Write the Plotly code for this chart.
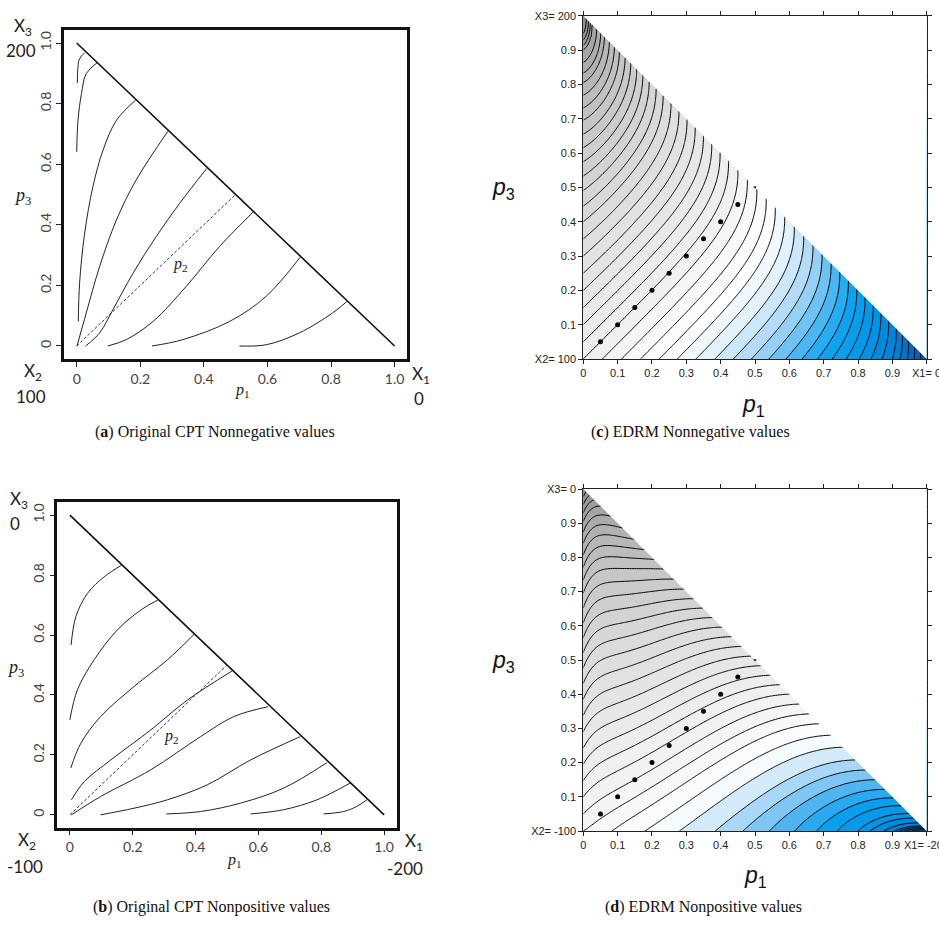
import numpy as np
import plotly.graph_objects as go

W, H = 939, 928

# ---------------- panel (a): CPT nonnegative indifference curves (p1, p3) ----------------
a_p1 = [
    [0.002, 0.004, 0.009, 0.025],
    [0.0, 0.004, 0.015, 0.030, 0.064],
    [0.005, 0.009, 0.025, 0.051, 0.083, 0.125, 0.185],
    [0.001, 0.030, 0.072, 0.125, 0.187, 0.287],
    [0.028, 0.072, 0.114, 0.177, 0.25, 0.324, 0.409],
    [0.098, 0.156, 0.24, 0.344, 0.449, 0.556],
    [0.237, 0.334, 0.481, 0.596, 0.703],
    [0.512, 0.596, 0.70, 0.805, 0.85],
]
a_p3 = [
    [0.868, 0.921, 0.948, 0.968],
    [0.641, 0.745, 0.833, 0.899, 0.935],
    [0.081, 0.207, 0.372, 0.526, 0.647, 0.745, 0.811],
    [0.0, 0.109, 0.262, 0.416, 0.548, 0.709],
    [0.0, 0.043, 0.12, 0.24, 0.361, 0.471, 0.586],
    [0.0, 0.021, 0.081, 0.196, 0.328, 0.443],
    [0.0, 0.021, 0.081, 0.164, 0.293],
    [0.0, 0.004, 0.043, 0.109, 0.147],
]
# ---------------- panel (b): CPT nonpositive ----------------
b_p1 = [
    [0.004, 0.019, 0.056, 0.109, 0.164],
    [0.0, 0.024, 0.077, 0.151, 0.225, 0.28],
    [0.003, 0.035, 0.098, 0.204, 0.31, 0.395],
    [0.005, 0.046, 0.13, 0.257, 0.374, 0.516],
    [0.005, 0.098, 0.257, 0.416, 0.522, 0.631],
    [0.098, 0.204, 0.31, 0.437, 0.575, 0.733],
    [0.307, 0.416, 0.543, 0.68, 0.818],
    [0.575, 0.68, 0.786, 0.892],
    [0.807, 0.871, 0.913, 0.945],
]
b_p3 = [
    [0.567, 0.661, 0.739, 0.794, 0.833],
    [0.317, 0.417, 0.517, 0.617, 0.683, 0.717],
    [0.156, 0.239, 0.328, 0.428, 0.517, 0.602],
    [0.05, 0.111, 0.183, 0.283, 0.383, 0.48],
    [0.0, 0.061, 0.15, 0.261, 0.328, 0.361],
    [0.0, 0.022, 0.05, 0.1, 0.183, 0.261],
    [0.003, 0.011, 0.039, 0.089, 0.174],
    [0.003, 0.017, 0.05, 0.106],
    [0.003, 0.011, 0.028, 0.05],
]
simplex_edge_p1 = [0, 1]
simplex_edge_p3 = [1, 0]
diag_p1 = [0, 0.5]
diag_p3 = [0, 0.5]

# ---------------- panels (c), (d): EDRM contour levels read along the triangle edges ----------------
edge_p = [0.0, 0.1, 0.2, 0.3, 0.4, 0.5, 0.6, 0.7, 0.8, 0.9, 1.0]
c_left_level = [0, 2, 4, 6, 8, 10.2, 12.6, 15.1, 17.8, 21, 25]            # along p1 = 0, by p3
c_bottom_level = [0, -1.8, -3.6, -5.5, -7.3, -9.2, -11.2, -13.4, -15.9, -19, -24]  # along p3 = 0, by p1
d_left_level = [0, 2, 4.1, 6.2, 8.3, 10.5, 12.8, 15.1, 17.8, 20.8, 25]
d_bottom_level = [0, -1.2, -2.2, -3.2, -4.15, -5.45, -6.75, -8.3, -10, -12.5, -17]
# curve-shape settings (bend toward the p2 = 0 edge, edge steepness)
c_shape = dict(bend=1.05, width=0.15, top_flat=1.46, top_scale=0.1)
d_shape = dict(slope=0.6, width=0.15, left_steep=3.8, left_scale=0.05, bottom_steep=2.2, bottom_scale=0.2)
dots = [0.05, 0.1, 0.15, 0.2, 0.25, 0.3, 0.35, 0.4, 0.45]


def s_c(p1, p3):
    p2 = np.clip(1 - p1 - p3, 0, None)
    g = -c_shape['bend'] * c_shape['width'] * np.exp(-p2 / c_shape['width'])
    t = c_shape['top_flat'] * p1 * np.exp(-p1 / c_shape['top_scale']) * p3 ** 2
    return p3 - p1 + g + t


def s_d(p1, p3):
    p2 = np.clip(1 - p1 - p3, 0, None)
    k = d_shape['slope']
    g = k * d_shape['width'] * np.exp(-p2 / d_shape['width'])
    f = np.sqrt(np.clip(p3, 0, None) + 0.03) - np.sqrt(0.03)
    t1 = -d_shape['left_steep'] * p1 * np.exp(-p1 / d_shape['left_scale']) * f
    t2 = -d_shape['bottom_steep'] * p3 * np.exp(-p3 / d_shape['bottom_scale']) * p1 ** 2 * (1.3 - p1)
    return p3 - k * p1 + g + t1 + t2


def level_field(sfun, left, bottom):
    ep = np.array(edge_p)
    sl = sfun(np.zeros_like(ep), ep)
    sb = sfun(ep, np.zeros_like(ep))
    xs = np.concatenate([sb[1:][::-1], sl])
    ys = np.concatenate([np.array(bottom[1:])[::-1], np.array(left)])
    order = np.argsort(xs)
    xs, ys = xs[order], ys[order]
    g = np.linspace(0, 1, 201)
    P1, P3 = np.meshgrid(g, g)
    return g, np.interp(sfun(P1, P3), xs, ys)


gc, Zc = level_field(s_c, c_left_level, c_bottom_level)
gd, Zd = level_field(s_d, d_left_level, d_bottom_level)

fig = go.Figure()


def px_x(px):
    return px / W


def px_y(py):
    return 1 - py / H


# ---------- line panels ----------
for p1s, p3s, xa, ya in [(a_p1, a_p3, 'x', 'y'), (b_p1, b_p3, 'x2', 'y2')]:
    for xs, ys in zip(p1s, p3s):
        fig.add_trace(go.Scatter(x=xs, y=ys, mode='lines', xaxis=xa, yaxis=ya,
                                 line=dict(color='#222', width=1, shape='spline', smoothing=1.0),
                                 showlegend=False, hoverinfo='skip'))
    fig.add_trace(go.Scatter(x=simplex_edge_p1, y=simplex_edge_p3, mode='lines', xaxis=xa, yaxis=ya,
                             line=dict(color='#111', width=1.6), showlegend=False))
    fig.add_trace(go.Scatter(x=diag_p1, y=diag_p3, mode='lines', xaxis=xa, yaxis=ya,
                             line=dict(color='#333', width=1, dash='3px,2px'), showlegend=False))

# ---------- contour panels ----------
cs_c = [[-24, '#00559f'], [-19, '#0080d8'], [-16, '#0096e6'], [-13, '#12a6f0'], [-11, '#5cbcf2'],
        [-9, '#a8d7f7'], [-6.5, '#e2f1fc'], [-4.5, '#ffffff'], [-2, '#f8f8f8'], [0, '#efefef'],
        [5, '#e3e3e3'], [10, '#d5d5d5'], [15, '#c4c4c4'], [20, '#a9a9a9'], [25, '#8a8a8a']]
cs_d = [[-17, '#00559f'], [-13.5, '#0078cc'], [-11, '#0090e2'], [-8.5, '#08a0ee'], [-6.8, '#40b0f0'],
        [-5.5, '#80c6f4'], [-4.2, '#b5dcf8'], [-3.2, '#e0f0fc'], [-2.2, '#ffffff'], [0, '#f6f6f6'],
        [5, '#e9e9e9'], [10, '#d9d9d9'], [15, '#c5c5c5'], [20, '#a8a8a8'], [25, '#888888']]
mask_p1 = [0, 1, 1.05, 1.05, 0]
mask_p3 = [1, 0, 0, 1.05, 1.05]


def norm_scale(cs):
    lo, hi = cs[0][0], cs[-1][0]
    return [[(v - lo) / (hi - lo), c] for v, c in cs], lo, hi


for g, Z, xa, ya, cs in [(gc, Zc, 'x3', 'y3', cs_c), (gd, Zd, 'x4', 'y4', cs_d)]:
    scale, lo, hi = norm_scale(cs)
    fig.add_trace(go.Contour(x=g, y=g, z=Z, xaxis=xa, yaxis=ya, colorscale=scale,
                             zmin=lo, zmax=hi, showscale=False, hoverinfo='skip',
                             contours=dict(start=-30, end=30, size=1, coloring='fill', showlines=True),
                             line=dict(color='black', width=1, smoothing=0.8)))
    fig.add_trace(go.Scatter(x=mask_p1, y=mask_p3, fill='toself', mode='lines',
                             fillcolor='white', line=dict(width=0, color='white'),
                             xaxis=xa, yaxis=ya, showlegend=False, hoverinfo='skip'))
    fig.add_trace(go.Scatter(x=dots, y=dots, mode='markers', xaxis=xa, yaxis=ya,
                             marker=dict(color='black', size=5), showlegend=False))
    fig.add_trace(go.Scatter(x=[0.5], y=[0.5], mode='markers', xaxis=xa, yaxis=ya,
                             marker=dict(color='black', size=3, symbol='triangle-down'), showlegend=False))

tick_font_ab = dict(family='Lato', size=14, color='#444')
tick_font_cd = dict(family='Liberation Sans', size=11, color='#222')


def ab_axes(xdom, ydom):
    tv = [0, 0.2, 0.4, 0.6, 0.8, 1.0]
    tt = ['0', '0.2', '0.4', '0.6', '0.8', '1.0']
    common = dict(tickvals=tv, ticktext=tt, ticks='outside', ticklen=5, tickcolor='#222',
                  showline=True, linecolor='#111', linewidth=2.5, mirror=True, automargin=False,
                  showgrid=False, zeroline=False, tickfont=tick_font_ab)
    xa = dict(domain=xdom, range=[-0.04, 1.04], **common)
    ya = dict(domain=ydom, range=[-0.043, 1.043], tickangle=-90, **common)
    return xa, ya


def cd_axes(xdom, ydom, ylast, ybottom):
    tv = [round(0.1 * k, 1) for k in range(11)]
    xt = ['0'] + [str(v) for v in tv[1:10]] + ['']
    yt = [ybottom] + [str(v) for v in tv[1:10]] + [ylast]
    common = dict(tickvals=tv, ticks='outside', ticklen=4, tickcolor='#222', showline=True,
                  linecolor='#222', linewidth=1, mirror='ticks', showgrid=False, zeroline=False,
                  tickfont=tick_font_cd, automargin=False)
    xa = dict(domain=xdom, range=[0, 1], ticktext=xt, **common)
    ya = dict(domain=ydom, range=[0, 1], ticktext=yt, **common)
    return xa, ya


xa1, ya1 = ab_axes([64 / W, 407.3 / W], [px_y(359), px_y(30)])
xa2, ya2 = ab_axes([57.3 / W, 396.7 / W], [px_y(827.7), px_y(502.3)])
xa3, ya3 = cd_axes([583.3 / W, 926.7 / W], [px_y(359), px_y(15.7)], 'X3= 200', 'X2= 100')
xa4, ya4 = cd_axes([583.3 / W, 926.7 / W], [px_y(831), px_y(489)], 'X3= 0', 'X2= -100')
for xa_, ya_, xn, yn in [(xa1, ya1, 'x', 'y'), (xa2, ya2, 'x2', 'y2'), (xa3, ya3, 'x3', 'y3'), (xa4, ya4, 'x4', 'y4')]:
    xa_['anchor'] = yn
    ya_['anchor'] = xn

ann = []


def txt(x, y, s, size=16, family='Lato', color='#222', yanchor='middle'):
    ann.append(dict(x=px_x(x), y=px_y(y), xref='paper', yref='paper', text=s, showarrow=False,
                    font=dict(family=family, size=size, color=color), xanchor='center', yanchor=yanchor))


serif = 'Liberation Serif'
# panel (a)
txt(23, 27, 'X<sub>3</sub>', 17)
txt(21, 51, '200', 17)
txt(22, 197, '<i>p</i><sub>3</sub>', 18, serif)
txt(33, 372, 'X<sub>2</sub>', 17)
txt(31, 396, '100', 17)
txt(243, 390, '<i>p</i><sub>1</sub>', 16, serif)
txt(421, 375, 'X<sub>1</sub>', 17)
txt(419, 398, '0', 17)
txt(180, 264, '<i>p</i><sub>2</sub>', 16, serif)
# panel (b)
txt(19, 500, 'X<sub>3</sub>', 17)
txt(15, 523, '0', 17)
txt(15, 668, '<i>p</i><sub>3</sub>', 18, serif)
txt(27, 841, 'X<sub>2</sub>', 17)
txt(25, 866, '-100', 17)
txt(234, 860, '<i>p</i><sub>1</sub>', 16, serif)
txt(414, 842, 'X<sub>1</sub>', 17)
txt(405, 868, '-200', 17)
txt(171, 736, '<i>p</i><sub>2</sub>', 16, serif)
# last x tick labels of (c), (d) (run past the page edge as in the original)
txt(926.7, 365, 'X1= 0', 11, 'Liberation Sans', '#222', 'top')
txt(926.7, 837, 'X1= -200', 11, 'Liberation Sans', '#222', 'top')
# panels (c), (d) axis titles
txt(503, 188, '<i>p</i><sub>3</sub>', 23, 'Liberation Sans', '#111')
txt(753, 405, '<i>p</i><sub>1</sub>', 23, 'Liberation Sans', '#111')
txt(503, 661, '<i>p</i><sub>3</sub>', 23, 'Liberation Sans', '#111')
txt(755, 876, '<i>p</i><sub>1</sub>', 23, 'Liberation Sans', '#111')
# captions
txt(215, 432, '(<b>a</b>) Original CPT Nonnegative values', 16, serif, '#111')
txt(690, 432, '(<b>c</b>) EDRM Nonnegative values', 16, serif, '#111')
txt(211, 907, '(<b>b</b>) Original CPT Nonpositive values', 16, serif, '#111')
txt(703, 907, '(<b>d</b>) EDRM Nonpositive values', 16, serif, '#111')

fig.update_layout(width=W, height=H, margin=dict(l=0, r=0, t=0, b=0, autoexpand=False),
                  paper_bgcolor='white', plot_bgcolor='white', showlegend=False,
                  xaxis=xa1, yaxis=ya1, xaxis2=xa2, yaxis2=ya2,
                  xaxis3=xa3, yaxis3=ya3, xaxis4=xa4, yaxis4=ya4, annotations=ann)

fig.write_html('out.html')
